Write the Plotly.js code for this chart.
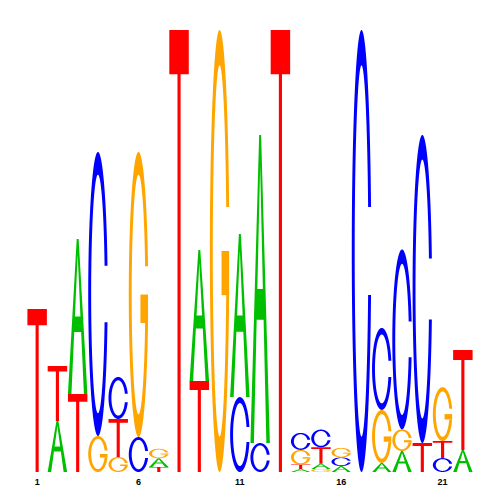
<!DOCTYPE html>
<html><head><meta charset="utf-8">
<script src="https://cdn.plot.ly/plotly-3.0.1.min.js"></script>
<style>html,body{margin:0;padding:0;background:#fff}#chart{width:500px;height:500px}</style>
</head><body><div id="chart"></div>
<script>
// ---- data (information content in bits per base, per position) ----
const positions = [1,2,3,4,5,6,7,8,9,10,11,12,13,14,15,16,17,18,19,20,21,22];
const bitsA = [0,0.231,0.701,0,0,0,0.039,0,0.593,0,0.738,1.394,0,0.014,0.023,0.027,0,0.041,0.095,0,0,0.100];
const bitsC = [0,0,0,1.285,0.190,0.158,0,0,0,0,0.339,0.131,0,0.077,0.080,0.039,2.0,0.371,0.814,1.394,0.063,0];
const bitsG = [0,0,0,0.163,0.068,1.290,0.043,0,0,2.0,0,0,0,0.066,0.014,0.043,0,0.240,0.098,0,0.244,0];
const bitsT = [0.738,0.249,0.353,0,0.172,0,0.023,2.0,0.412,0,0,0,2.0,0.020,0.075,0,0,0,0,0.131,0.077,0.452];
const tickPositions = [1,6,11,16,21];
const tickLabels = ['1','6','11','16','21'];

// ---- glyph templates in a unit box ----
const colors = {A:'#00BF00', C:'#0000FF', G:'#FFA500', T:'#FF0000'};
function ring(){
  const a = 0.2, n = 80, ri = 0.35, riy = 0.42;
  const ang1 = [], ang2 = [];
  for(let k=0;k<n;k++){ ang1.push(a+Math.PI/2 + (Math.PI/2 - a)*k/(n-1)); ang2.push(Math.PI + (Math.PI/2)*k/(n-1)); }
  const ol = ang1.concat(ang2).map(t=>[0.5+0.5*Math.sin(t), 0.5+0.5*Math.cos(t)]);
  const hmax = 0.5+0.5*Math.cos(ang1[0]);
  let i1 = ang1.map(t=>[0.5+ri*Math.sin(t), 0.5+riy*Math.cos(t)]).filter(p=>p[1]<=hmax);
  i1[0] = [i1[0][0], hmax];
  const il = i1.concat(ang2.map(t=>[0.5+ri*Math.sin(t), 0.5+riy*Math.cos(t)]));
  const outer = ol.concat(ol.slice().reverse().map(p=>[p[0],1-p[1]]));
  const inner = il.concat(il.slice().reverse().map(p=>[p[0],1-p[1]]));
  return [outer.concat(inner.slice().reverse())];
}
const glyphs = {
  A: [[[0,0],[0.45,1],[0.55,1],[1,0],[0.82,0],[0.678,0.4],[0.322,0.4],[0.18,0]],
      [[0.358,0.5],[0.5,0.9],[0.642,0.5]]],
  C: ring(),
  G: ring().concat([[[0.6,0.5],[0.99,0.5],[0.99,0.4],[0.6,0.4]]]),
  T: [[[0,1],[1,1],[1,0.9],[0.58,0.9],[0.58,0],[0.42,0],[0.42,0.9],[0,0.9]]]
};
const letterWidth = 0.96;
const bits = {A:bitsA, C:bitsC, G:bitsG, T:bitsT};
const shapes = [];
positions.forEach((p,i)=>{
  const col = ['A','C','G','T'].map(b=>({b, h:bits[b][i]})).filter(d=>d.h>0).sort((u,v)=>u.h-v.h);
  let y0 = 0;
  col.forEach(d=>{
    const x0 = p - letterWidth/2;
    glyphs[d.b].forEach((poly,k)=>{
      const isHole = (d.b==='A' && k===1);
      const path = 'M' + poly.map(q=>(x0+q[0]*letterWidth).toFixed(4)+','+(y0+q[1]*d.h).toFixed(5)).join('L') + 'Z';
      shapes.push({type:'path', xref:'x', yref:'y', path, fillcolor: isHole ? '#FFFFFF' : colors[d.b], line:{width:0}, layer:'above'});
    });
    y0 += d.h;
  });
});

const trace = {x: positions, y: positions.map(()=>0), mode:'markers', marker:{opacity:0}, hoverinfo:'skip', showlegend:false};
const layout = {
  width:500, height:500, margin:{l:27, r:27, t:30, b:28},
  paper_bgcolor:'#fff', plot_bgcolor:'#fff', showlegend:false,
  xaxis:{range:[0.5,22.5], tickvals:tickPositions, ticktext:tickLabels, showgrid:false, zeroline:false, showline:false, ticks:'',
         ticklabelstandoff:3,
         tickfont:{family:'Liberation Sans, Arial, sans-serif', size:9, color:'#000', weight:'bold'}, fixedrange:true},
  yaxis:{range:[0,2], visible:false, showgrid:false, zeroline:false, fixedrange:true},
  shapes
};
Plotly.newPlot('chart',[trace],layout,{staticPlot:true, displayModeBar:false});
</script></body></html>
